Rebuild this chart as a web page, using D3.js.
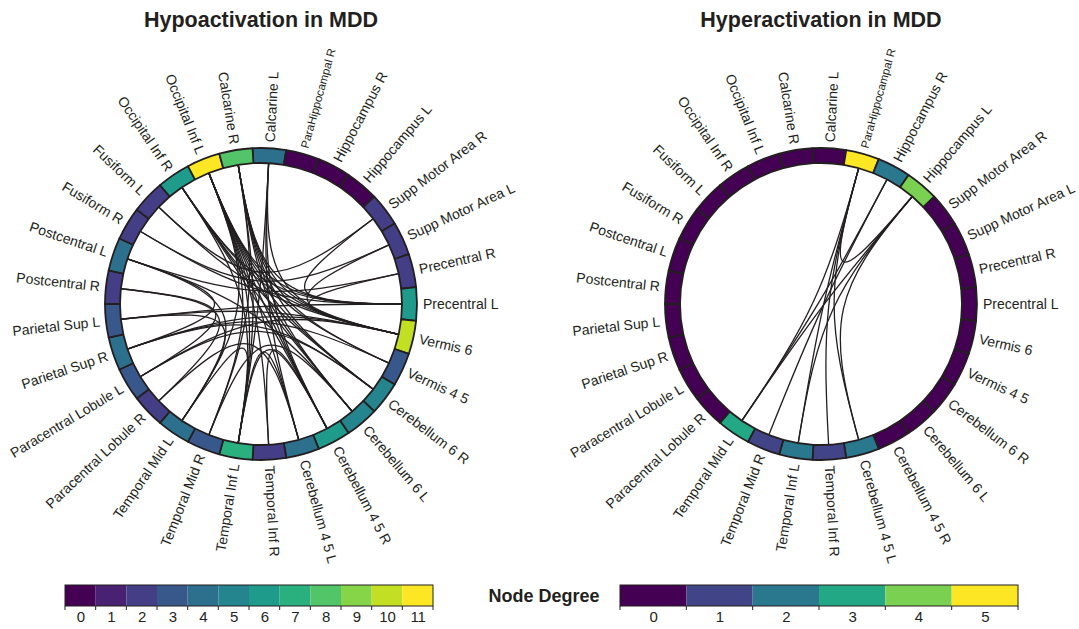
<!DOCTYPE html>
<html>
<head>
<meta charset="utf-8">
<script src="https://cdn.jsdelivr.net/npm/d3@7"></script>
<style>
  body { margin: 0; background: #ffffff; }
  text { font-family: "Liberation Sans", Arial, Helvetica, sans-serif; fill: #231f20; }
</style>
</head>
<body>
<svg id="chart" width="1079" height="629"></svg>
<script>
// Brain regions, placed clockwise around each ring
const regions = [
  "Calcarine L", "ParaHippocampal R", "Hippocampus R", "Hippocampus L",
  "Supp Motor Area R", "Supp Motor Area L", "Precentral R", "Precentral L",
  "Vermis 6", "Vermis 4 5", "Cerebellum 6 R", "Cerebellum 6 L",
  "Cerebellum 4 5 R", "Cerebellum 4 5 L", "Temporal Inf R", "Temporal Inf L",
  "Temporal Mid R", "Temporal Mid L", "Paracentral Lobule R", "Paracentral Lobule L",
  "Parietal Sup R", "Parietal Sup L", "Postcentral R", "Postcentral L",
  "Fusiform R", "Fusiform L", "Occipital Inf R", "Occipital Inf L", "Calcarine R"
];

// Connections found for hypoactivation
const hypoEdges = [
  ["Fusiform L", "Supp Motor Area R"],
  ["Supp Motor Area R", "Precentral L"],
  ["Fusiform R", "Supp Motor Area L"],
  ["Supp Motor Area L", "Vermis 6"],
  ["Postcentral L", "Precentral R"],
  ["Precentral R", "Vermis 6"],
  ["Occipital Inf L", "Precentral L"],
  ["Occipital Inf L", "Vermis 6"],
  ["Occipital Inf L", "Vermis 4 5"],
  ["Occipital Inf L", "Cerebellum 6 R"],
  ["Occipital Inf L", "Cerebellum 6 L"],
  ["Occipital Inf L", "Cerebellum 4 5 R"],
  ["Occipital Inf L", "Cerebellum 4 5 L"],
  ["Occipital Inf L", "Temporal Inf R"],
  ["Occipital Inf L", "Temporal Inf L"],
  ["Occipital Inf L", "Temporal Mid R"],
  ["Occipital Inf L", "Temporal Mid L"],
  ["Calcarine R", "Precentral L"],
  ["Calcarine R", "Vermis 6"],
  ["Calcarine R", "Cerebellum 6 R"],
  ["Calcarine R", "Cerebellum 6 L"],
  ["Calcarine R", "Cerebellum 4 5 R"],
  ["Calcarine R", "Temporal Inf L"],
  ["Calcarine R", "Temporal Mid R"],
  ["Calcarine R", "Vermis 4 5"],
  ["Calcarine L", "Vermis 6"],
  ["Calcarine L", "Cerebellum 4 5 R"],
  ["Calcarine L", "Temporal Inf L"],
  ["Calcarine L", "Cerebellum 4 5 L"],
  ["Occipital Inf R", "Precentral L"],
  ["Occipital Inf R", "Vermis 6"],
  ["Occipital Inf R", "Cerebellum 6 R"],
  ["Occipital Inf R", "Cerebellum 4 5 R"],
  ["Occipital Inf R", "Temporal Inf L"],
  ["Occipital Inf R", "Cerebellum 6 L"],
  ["Temporal Inf L", "Cerebellum 4 5 R"],
  ["Temporal Inf L", "Cerebellum 4 5 L"],
  ["Temporal Inf R", "Cerebellum 4 5 R"],
  ["Parietal Sup L", "Precentral L"],
  ["Parietal Sup L", "Vermis 6"],
  ["Parietal Sup R", "Vermis 6"],
  ["Parietal Sup R", "Postcentral L"],
  ["Fusiform L", "Vermis 6"],
  ["Fusiform R", "Precentral L"],
  ["Paracentral Lobule L", "Vermis 6"],
  ["Parietal Sup R", "Cerebellum 6 R"],
  ["Paracentral Lobule L", "Cerebellum 6 R"],
  ["Parietal Sup R", "Vermis 4 5"],
  ["Postcentral L", "Cerebellum 6 L"],
  ["Temporal Mid L", "Temporal Inf L"],
  ["Parietal Sup L", "Temporal Mid L"],
  ["Postcentral R", "Paracentral Lobule L"],
  ["Postcentral R", "Paracentral Lobule R"],
  ["Postcentral L", "Temporal Mid L"],
  ["Paracentral Lobule R", "Cerebellum 4 5 L"],
  ["Temporal Mid R", "Cerebellum 6 L"]
];

// Connections found for hyperactivation
const hyperEdges = [
  ["ParaHippocampal R", "Hippocampus L"],
  ["ParaHippocampal R", "Temporal Mid L"],
  ["ParaHippocampal R", "Temporal Inf L"],
  ["ParaHippocampal R", "Temporal Inf R"],
  ["ParaHippocampal R", "Cerebellum 4 5 L"],
  ["Hippocampus R", "Temporal Mid L"],
  ["Hippocampus R", "Temporal Mid R"],
  ["Hippocampus L", "Temporal Mid L"],
  ["Hippocampus L", "Temporal Inf L"],
  ["Hippocampus L", "Cerebellum 4 5 L"]
];

// Colour-bar tick labels (node degree)
const hypoDegreeTicks = [0, 1, 2, 3, 4, 5, 6, 7, 8, 9, 10, 11];
const hyperDegreeTicks = [0, 1, 2, 3, 4, 5];

const panels = [
  { title: "Hypoactivation in MDD", edges: hypoEdges, ticks: hypoDegreeTicks,
    cx: 261, cy: 304, barX: [65, 433] },
  { title: "Hyperactivation in MDD", edges: hyperEdges, ticks: hyperDegreeTicks,
    cx: 821, cy: 304, barX: [620, 1018] }
];

const ink = "#231f20";
const rOuter = 156, rInner = 141;
const pull = 0.13;   // how far the Bezier handles sit from the centre
const smallLabels = new Set(["ParaHippocampal R"]);

const svg = d3.select("#chart");

// Angular position of each region; the 8th region sits at 3 o'clock
const step = 2 * Math.PI / regions.length;
const start = Math.PI / 2 - 7.5 * step;
const angle = d3.scaleBand().domain(regions).range([start, start + 2 * Math.PI]).padding(0);
const mid = name => angle(name) + angle.bandwidth() / 2;

const ringArc = d3.arc()
  .innerRadius(rInner).outerRadius(rOuter)
  .startAngle(d => angle(d)).endAngle(d => angle(d) + angle.bandwidth());

// Point at radius r (angle clockwise from 12 o'clock)
const rimPoint = (a, r) => [r * Math.sin(a), -r * Math.cos(a)];

// Cubic curve between two rim positions, handles pulled in towards the centre
function edgePath(a, b, r) {
  const [x1, y1] = rimPoint(a, r), [x2, y2] = rimPoint(b, r);
  const p = d3.path();
  p.moveTo(x1, y1);
  p.bezierCurveTo(pull * x1, pull * y1, pull * x2, pull * y2, x2, y2);
  return p.toString();
}

panels.forEach(panel => {
  const degree = new Map(regions.map(n => [n, 0]));
  panel.edges.forEach(([s, t]) => {
    degree.set(s, degree.get(s) + 1);
    degree.set(t, degree.get(t) + 1);
  });
  const maxDeg = d3.max(panel.ticks);
  const color = d3.scaleSequential(d3.interpolateViridis).domain([0, maxDeg]);

  svg.append("text")
    .attr("x", panel.cx).attr("y", 27)
    .attr("text-anchor", "middle")
    .style("font-size", "21.5px").style("font-weight", "bold")
    .text(panel.title);

  const g = svg.append("g").attr("transform", `translate(${panel.cx},${panel.cy})`);

  g.append("g").selectAll("path").data(panel.edges).join("path")
    .attr("d", ([s, t]) => edgePath(mid(s), mid(t), rInner))
    .attr("fill", "none").attr("stroke", ink).attr("stroke-width", 1.3);

  g.append("g").selectAll("path").data(regions).join("path")
    .attr("d", ringArc)
    .attr("fill", d => color(degree.get(d)))
    .attr("stroke", ink).attr("stroke-width", 1.8).attr("stroke-linejoin", "round");

  g.append("g").selectAll("text").data(regions).join("text")
    .attr("transform", d => {
      const deg = mid(d) * 180 / Math.PI;
      const flip = deg > 180;
      return `rotate(${deg - 90}) translate(${rOuter + 6},0)` + (flip ? " rotate(180)" : "");
    })
    .attr("text-anchor", d => (mid(d) * 180 / Math.PI > 180 ? "end" : "start"))
    .attr("dy", "0.35em")
    .style("font-size", d => smallLabels.has(d) ? "11.5px" : "14px")
    .text(d => d);

  // Discrete colour bar
  const barY = 585, barH = 21;
  const x = d3.scaleLinear().domain([-0.5, maxDeg + 0.5]).range(panel.barX);
  const bar = svg.append("g");
  bar.selectAll("rect").data(panel.ticks).join("rect")
    .attr("x", k => x(k - 0.5)).attr("y", barY)
    .attr("width", k => x(k + 0.5) - x(k - 0.5)).attr("height", barH)
    .attr("fill", k => color(k));
  bar.append("rect")
    .attr("x", panel.barX[0]).attr("y", barY)
    .attr("width", panel.barX[1] - panel.barX[0]).attr("height", barH)
    .attr("fill", "none").attr("stroke", ink).attr("stroke-width", 1);
  bar.selectAll("line").data([-1, ...panel.ticks]).join("line")
    .attr("x1", k => x(k + 0.5)).attr("x2", k => x(k + 0.5))
    .attr("y1", barY + barH).attr("y2", barY + barH + 4)
    .attr("stroke", ink).attr("stroke-width", 1);
  const axis = d3.axisBottom(x).tickValues(panel.ticks).tickSize(0).tickPadding(0).tickFormat(d3.format("d"));
  const ax = bar.append("g")
    .attr("transform", `translate(0,${barY + barH + 5})`)
    .call(axis);
  ax.attr("font-size", null).attr("font-family", null);
  ax.select(".domain").remove();
  ax.selectAll("text").attr("fill", ink).style("font-size", "15px");
});

svg.append("text")
  .attr("x", 544).attr("y", 602)
  .attr("text-anchor", "middle")
  .style("font-size", "18px").style("font-weight", "bold")
  .text("Node Degree");
</script>
</body>
</html>
